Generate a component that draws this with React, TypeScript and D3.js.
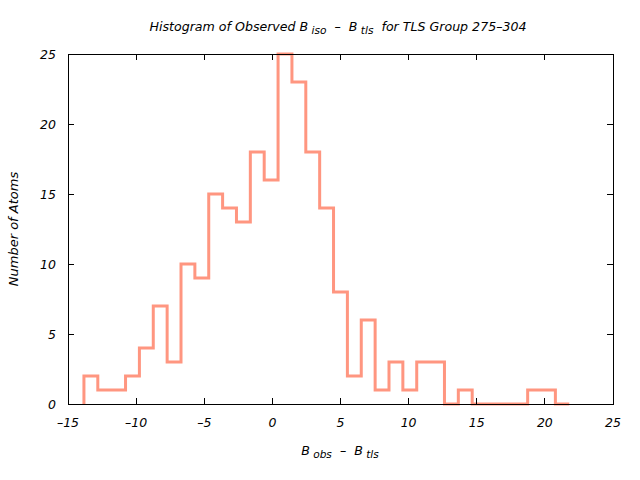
import React from "react";
import * as d3 from "d3";

const binStart = -13.83;
const binWidth = 1.0177;
const counts = [2, 1, 1, 2, 4, 7, 3, 10, 9, 15, 14, 13, 18, 16, 25, 23, 18, 14, 8, 2, 6, 1, 3, 1, 3, 3, 0, 1, 0, 0, 0, 0, 1, 1, 0];
const xTicks = [-15, -10, -5, 0, 5, 10, 15, 20, 25];
const yTicks = [0, 5, 10, 15, 20, 25];

const W = 640, H = 480;
const M = { left: 68, right: 613, top: 54, bottom: 404 };
const FONT = "'DejaVu Sans', sans-serif";

export default function App() {
  const x = d3.scaleLinear().domain([-15, 25]).range([M.left, M.right]);
  const y = d3.scaleLinear().domain([0, 25]).range([M.bottom, M.top]);

  const edges = counts.map((_, i) => binStart + i * binWidth);
  edges.push(binStart + counts.length * binWidth);
  let d = `M${x(edges[0])},${y(0)}`;
  counts.forEach((c, i) => {
    d += `V${y(c)}H${x(edges[i + 1])}`;
  });

  const tl = 6;
  const pre = { whiteSpace: "pre" as const };
  return (
    <svg width={W} height={H} style={{ position: "absolute", left: 0, top: 0, background: "#fff" }}>
      <rect x={0} y={0} width={W} height={H} fill="#fff" />
      <path d={d} fill="none" stroke="#ff9680" strokeWidth={3} strokeLinejoin="miter" />
      <rect x={M.left} y={M.top} width={M.right - M.left} height={M.bottom - M.top} fill="none" stroke="#000" strokeWidth={1} shapeRendering="crispEdges" />
      {xTicks.map((t) => (
        <g key={"x" + t}>
          <line x1={x(t)} x2={x(t)} y1={M.bottom} y2={M.bottom - tl} stroke="#000" shapeRendering="crispEdges" />
          <line x1={x(t)} x2={x(t)} y1={M.top} y2={M.top + tl} stroke="#000" shapeRendering="crispEdges" />
          <text x={x(t)} y={427} textAnchor="middle" fontFamily={FONT} fontStyle="italic" fontSize={12.5}>
            {t < 0 ? "\u2013" + Math.abs(t) : t}
          </text>
        </g>
      ))}
      {yTicks.map((t) => (
        <g key={"y" + t}>
          <line x1={M.left} x2={M.left + tl} y1={y(t)} y2={y(t)} stroke="#000" shapeRendering="crispEdges" />
          <line x1={M.right} x2={M.right - tl} y1={y(t)} y2={y(t)} stroke="#000" shapeRendering="crispEdges" />
          <text x={56} y={y(t) + 4.5} textAnchor="end" fontFamily={FONT} fontStyle="italic" fontSize={12.5}>
            {t}
          </text>
        </g>
      ))}
      <text x={338} y={31} textAnchor="middle" fontFamily={FONT} fontStyle="italic" fontSize={12.6} style={pre}>
        Histogram of Observed B<tspan dy={3} fontSize={10.6}> iso</tspan>
        <tspan dy={-3}>{"  \u2013  B"}</tspan>
        <tspan dy={3} fontSize={10.6}> tls</tspan>
        <tspan dy={-3}>{"  for TLS Group 275\u2013304"}</tspan>
      </text>
      <text x={340} y={455} textAnchor="middle" fontFamily={FONT} fontStyle="italic" fontSize={12.6} style={pre}>
        B<tspan dy={3} fontSize={10.6}> obs</tspan>
        <tspan dy={-3}>{"  \u2013  B"}</tspan>
        <tspan dy={3} fontSize={10.6}> tls</tspan>
      </text>
      <text transform={`translate(18,229) rotate(-90)`} textAnchor="middle" fontFamily={FONT} fontStyle="italic" fontSize={13}>
        Number of Atoms
      </text>
    </svg>
  );
}
